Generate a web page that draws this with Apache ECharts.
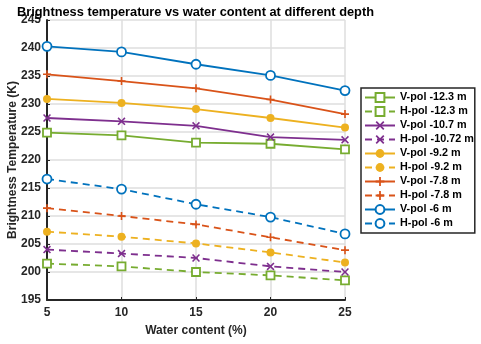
<!DOCTYPE html>
<html>
<head>
<meta charset="utf-8">
<script src="https://cdn.jsdelivr.net/npm/echarts@6/dist/echarts.min.js"></script>
<style>
  html, body { margin: 0; padding: 0; background: #fff; }
  #chart { width: 481px; height: 344px; }
</style>
</head>
<body>
<div id="chart"></div>
<script>
// water content (%)
var waterContent = [5, 10, 15, 20, 25];

// brightness temperature (K)
var vpol123 = [224.9, 224.4, 223.1, 222.9, 221.9];
var hpol123 = [201.5, 201.0, 200.0, 199.4, 198.5];
var vpol107 = [227.5, 226.9, 226.1, 224.1, 223.6];
var hpol1072 = [204.0, 203.3, 202.5, 201.0, 200.0];
var vpol92 = [230.9, 230.2, 229.1, 227.5, 225.8];
var hpol92 = [207.2, 206.3, 205.1, 203.5, 201.7];
var vpol78 = [235.3, 234.1, 232.8, 230.8, 228.2];
var hpol78 = [211.4, 210.0, 208.5, 206.2, 203.9];
var vpol6 = [240.3, 239.3, 237.1, 235.1, 232.4];
var hpol6 = [216.6, 214.8, 212.1, 209.8, 206.8];

var green = '#77AC30', purple = '#7E2F8E', yellow = '#EDB120', orange = '#D95319', blue = '#0072BD';

var plusPath = 'path://M4,0H6V4H10V6H6V10H4V6H0V4H4Z';
var xPath = 'path://M1.4,0L5,3.6L8.6,0L10,1.4L6.4,5L10,8.6L8.6,10L5,6.4L1.4,10L0,8.6L3.6,5L0,1.4Z';

function pairs(vals) {
  return waterContent.map(function (x, i) { return [x, vals[i]]; });
}

// name, data, color, dashed, symbol, hollow
var seriesDefs = [
  ['V-pol -12.3 m', vpol123, green, false, 'rect', true],
  ['H-pol -12.3 m', hpol123, green, true, 'rect', true],
  ['V-pol -10.7 m', vpol107, purple, false, xPath, false],
  ['H-pol -10.72 m', hpol1072, purple, true, xPath, false],
  ['V-pol -9.2 m', vpol92, yellow, false, 'circle', false],
  ['H-pol -9.2 m', hpol92, yellow, true, 'circle', false],
  ['V-pol -7.8 m', vpol78, orange, false, plusPath, false],
  ['H-pol -7.8 m', hpol78, orange, true, plusPath, false],
  ['V-pol -6 m', vpol6, blue, false, 'circle', true],
  ['H-pol -6 m', hpol6, blue, true, 'circle', true]
];

var series = seriesDefs.map(function (d) {
  return {
    name: d[0],
    type: 'line',
    data: pairs(d[1]),
    symbol: d[4],
    symbolSize: d[4] === 'rect' ? 8 : (d[5] ? 9 : 8),
    showAllSymbol: true,
    lineStyle: { color: d[2], width: 1.8, type: d[3] ? [7, 5] : 'solid' },
    itemStyle: {
      color: d[5] ? '#fff' : d[2],
      borderColor: d[2],
      borderWidth: d[5] ? 1.8 : 0
    },
    emphasis: { disabled: true },
    z: 3
  };
});

var chart = echarts.init(document.getElementById('chart'));
chart.setOption({
  animation: false,
  backgroundColor: '#fff',
  textStyle: { fontFamily: 'Liberation Sans, Arial, sans-serif' },
  title: {
    text: 'Brightness temperature vs water content at different depth',
    left: 12,
    top: 1,
    textStyle: { fontSize: 12.8, fontWeight: 'bold', color: '#000' }
  },
  legend: {
    orient: 'vertical',
    left: 361,
    top: 88,
    itemWidth: 30,
    itemHeight: 11,
    itemGap: 3,
    padding: [4, 1, 4, 3],
    borderColor: '#262626',
    borderWidth: 1.5,
    backgroundColor: '#fff',
    textStyle: { fontSize: 10.8, lineHeight: 11, fontWeight: 'bold', color: '#000' },
    data: seriesDefs.map(function (d) { return d[0]; })
  },
  grid: { left: 47, right: 136, top: 20, bottom: 44, outerBoundsMode: 'none' },
  xAxis: {
    type: 'value',
    min: 5, max: 25, interval: 5,
    name: 'Water content (%)',
    nameLocation: 'middle',
    nameGap: 25,
    nameMoveOverlap: false,
    nameTextStyle: { fontSize: 12, fontWeight: 'bold', color: '#262626' },
    axisLine: { onZero: false, lineStyle: { color: '#262626', width: 2 } },
    axisTick: { inside: true, length: 3, lineStyle: { color: '#262626' } },
    axisLabel: { fontSize: 12, fontWeight: 'bold', color: '#262626', margin: 7 },
    splitLine: { show: true, lineStyle: { color: '#dedede', width: 1.5 } }
  },
  yAxis: {
    type: 'value',
    min: 195, max: 245, interval: 5,
    name: 'Brightness Temperature (K)',
    nameLocation: 'middle',
    nameGap: 28,
    nameMoveOverlap: false,
    nameTextStyle: { fontSize: 12, fontWeight: 'bold', color: '#262626' },
    axisLine: { show: true, lineStyle: { color: '#262626', width: 2 } },
    axisTick: { show: true, inside: true, length: 3, lineStyle: { color: '#262626' } },
    axisLabel: { fontSize: 12, fontWeight: 'bold', color: '#262626', margin: 6 },
    splitLine: { show: true, lineStyle: { color: '#dedede', width: 1.5 } }
  },
  series: series
});
</script>
</body>
</html>
